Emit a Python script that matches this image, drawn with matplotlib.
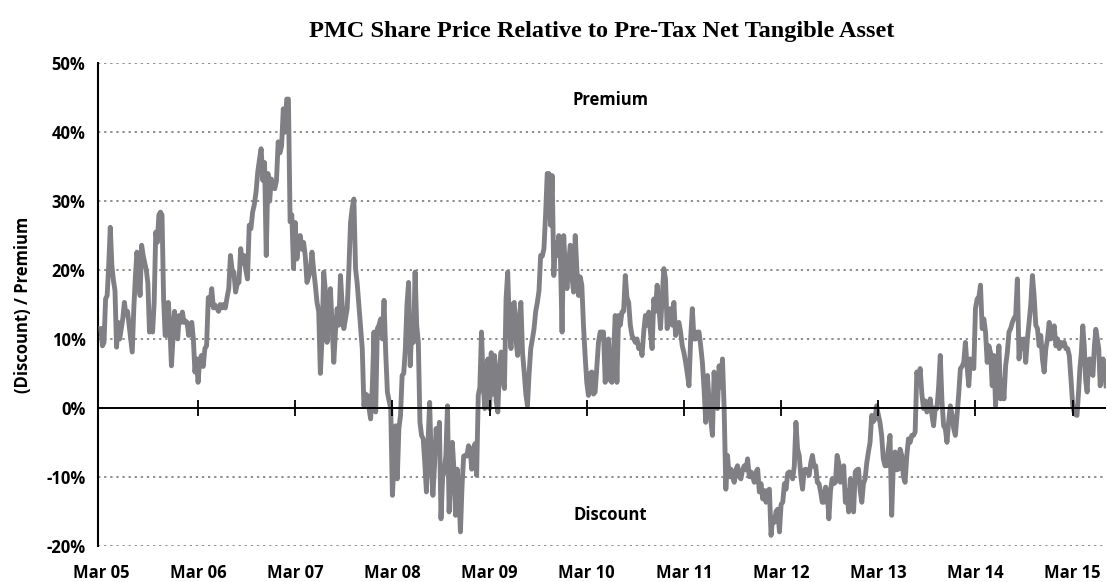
import numpy as np
import matplotlib
matplotlib.use("Agg")
import matplotlib.pyplot as plt

# Share price relative to pre-tax NTA, in %, one list per year (March to March)
pct_2005 = [11.5, 9.0, 9.5, 15.8, 16.3, 20.7, 26.2, 20.7, 18.5, 17, 8.8, 12.4, 10, 11.5, 13,
            15.3, 13.5, 14.0, 12, 10, 8.1, 14.4, 19, 22.6, 20, 16.3, 23.6, 22.1, 21, 20.0,
            18, 11.0, 12, 11.0, 15.3, 25.5, 24, 28, 28.4, 28.0, 16, 10.5, 10.5, 15.3, 12,
            6.1, 10, 14, 11, 10, 13.4, 12.4, 13.9, 12.4, 12.6, 12.4, 10.5, 12, 12.4, 10.0,
            5.2, 7.1]
pct_2006 = [3.7, 7, 7.6, 6, 8.6, 9, 16, 15, 17.3, 14.5, 14.9, 14.5, 14, 15, 14.5, 15, 14.5,
            16, 17.3, 22.1, 20, 19.7, 16.8, 18, 18.2, 23.1, 21, 22.1, 20, 18.7, 26.5, 26,
            28.4, 29.5, 31.3, 34.2, 36, 37.6, 33, 35.6, 22.1, 34, 30, 33.2, 32, 31.8, 33,
            38.6, 37, 38, 43.4, 40, 44.8, 44.8, 27, 28, 20.2]
pct_2007 = [26.9, 21.6, 24, 25, 23, 24, 22, 18.2, 19, 20, 22.6, 20, 17.8, 15.3, 14, 5.0, 10,
            19.7, 17, 9.5, 14, 17.3, 12, 6.6, 11, 14.4, 12, 19.2, 15, 11.5, 13, 14.4, 20,
            26.9, 29, 30.3, 20.2, 18, 14.9, 12, 8.6, 0.3, 2, 1.8, 0, -1.6, 3, 11.0, -0.6,
            11.5, 12, 12.9, 10, 15.6, 8, 2.3, 1, -0.1]
pct_2008 = [-12.7, -8, -2.6, -10.3, -3, -1.1, 4.7, 5, 8.6, 15, 18.2, 6.1, 12, 9.5, 19.7, 12,
            9.5, -2.1, -4, -4.5, -8, -12.2, -5, 0.8, -8, -12.7, -8.4, -3.0, -6, -2.1, -16.1,
            -10, -9.3, -6.9, 0.3, -15.1, -10, -5, -9, -15.6, -8.9, -12, -18.0, -11.3, -7,
            -6.9, -7, -5.5, -6, -8.9, -6, -5.2, -9.8, 1.8, 3, 11.0, 4, -0.1, 5, 7.1]
pct_2009 = [-0.1, 8, 2, 7.6, 1, -0.6, 6, 8.1, 4, 2.8, 15.8, 19.7, 12, 8.6, 15, 15.3, 10, 7.6,
            13, 15.3, 8, 5.2, 2, 0.3, 5, 8.6, 10, 11.5, 14, 15.3, 17, 22.1, 22, 23.1, 28, 34,
            34, 26.5, 33.7, 19.2, 24, 22.1, 25, 22, 11.0, 25, 20, 17.3, 21, 23.6, 19, 16.8,
            25, 20, 16.3, 19, 17.8, 12, 7.6]
pct_2010 = [3.7, 1.8, 5, 5.2, 2, 2.3, 6, 9.5, 11, 11.0, 11.0, 3.7, 8, 10, 4, 3.7, 8, 13.4,
            3.7, 13.4, 12, 13.9, 14, 19.2, 16, 15.3, 12, 10.5, 10, 9.5, 10, 8.6, 9, 7.6, 11,
            13.4, 12, 13.9, 11, 8.6, 15.8, 14, 17.8, 15, 11.5, 16, 20.2, 18.7, 11.5, 14,
            14.4, 12, 15.3, 10.5, 12, 12.4, 11, 9.0]
pct_2011 = [8, 6.6, 5, 3.2, 10, 14.4, 10, 10, 11, 11, 9, 6.6, 2.8, -2.1, 4.7, 1, -1.6, -4.0,
            5.2, 1, -0.1, 6.1, 3, 7.1, -0.1, -11.8, -6.9, -10, -8.9, -10, -10.8, -9, -8.4,
            -10, -10.3, -9, -8.4, -9, -7.4, -10, -9.3, -10, -10.8, -9.3, -8.9, -12.2, -11,
            -13.2, -12, -13.7, -12, -11.8, -18.5, -16, -16.6, -15, -14.7, -18.0]
pct_2012 = [-14, -13.7, -11, -11.8, -9.5, -9.3, -9.5, -10.3, -8.5, -2.1, -6, -6.9, -10, -11.8,
            -9, -8.9, -9.3, -9.8, -8, -6.9, -8.5, -8.4, -10.8, -11, -12.2, -13.7, -13.7,
            -11.5, -12.2, -16.1, -12, -10.3, -11, -10.8, -6.9, -8, -10.8, -9, -8.4, -13.7,
            -12, -15.1, -10.3, -12, -15.1, -9.3, -9, -8.9, -12, -13.7, -11, -10.3, -8, -6.4,
            -5, -1.1, -2, -1.6, 0.3]
pct_2013 = [-1, -2.1, -4, -7.4, -8.4, -8.4, -6, -4.0, -15.6, -8, -6.4, -9, -8.9, -6, -6.9,
            -10, -10.8, -7, -4.5, -5, -4.0, -4, -3.5, 5.2, 4, 5.7, 2, -0.1, 1, -0.6, 0, 1.3,
            -1, -2.6, 0, -0.1, 3, 7.6, 1, -2.6, -3, -5.0, -2, 0.3, -1, -3.0, -4, -1.1, 2,
            5.7, 6, 6.6, 9.5, 6, 3.2, 7.1, 6.6, 5.7]
pct_2014 = [14.4, 15.8, 16, 17.8, 11.5, 12.9, 11, 6.6, 9, 8, 3.2, 7.6, 0.3, 5, 9, 1.3, 4, 1.3,
            6.1, 8, 11, 11.5, 12.4, 13, 13.4, 18.7, 7.1, 10, 8.6, 10, 6.6, 10, 12.4, 15, 19.2,
            16.3, 12, 11.5, 9, 10.5, 7, 5.2, 8.6, 10, 12.4, 10, 11, 11.9, 9, 10, 8.6, 9.5, 9,
            9.5, 8.6, 8.6, 7.6, 4.2]
pct_2015 = [0.5, -0.6, -1, -1.1, 2, 5.7, 8, 11.9, 9, 4, 2.3, 7, 7.1, 5, 4.7, 9, 11.4, 10, 8.6,
            3.2, 6, 7.1, 5, 3.2]
last_date = 2015.51  # last observation, early July 2015

year_lists = [pct_2005, pct_2006, pct_2007, pct_2008, pct_2009, pct_2010,
              pct_2011, pct_2012, pct_2013, pct_2014, pct_2015]
march_years = list(range(2005, 2016))
tick_labels = ["Mar 05", "Mar 06", "Mar 07", "Mar 08", "Mar 09", "Mar 10",
               "Mar 11", "Mar 12", "Mar 13", "Mar 14", "Mar 15"]
y_ticks = [-20, -10, 0, 10, 20, 30, 40, 50]

# Build one series of decimal years
dates = []
values = []
for k, vals in enumerate(year_lists):
    start = march_years[k] + 2 / 12
    if k < len(year_lists) - 1:
        xs = np.linspace(start, start + 1, len(vals), endpoint=False)
    else:
        xs = np.linspace(start, last_date, len(vals))
    dates.extend(xs)
    values.extend(vals)
march_x = [y + 2 / 12 for y in march_years]

sans = "Open Sans"

fig = plt.figure(figsize=(11.07, 5.82), dpi=100)
ax = fig.add_axes([0.0885, 0.0624, 0.9106, 0.8289])

ax.plot(dates, values, color="#808084", lw=3.5, solid_joinstyle="round", zorder=3)

# zero axis with year ticks
ax.axhline(0, color="black", lw=1.4, zorder=4)
ax.plot(march_x[1:], [0] * (len(march_x) - 1), ls="none", marker="|", ms=12,
        mew=1.3, color="black", zorder=4)

ax.set_xlim(march_x[0] - 0.03, last_date)
ax.set_ylim(-20, 50)
ax.set_yticks(y_ticks)
ax.set_yticklabels(["%d%%" % v for v in y_ticks])
ax.set_xticks(march_x)
ax.set_xticklabels(tick_labels)
ax.tick_params(axis="both", length=0, labelsize=12)
ax.tick_params(axis="y", pad=9)
ax.tick_params(axis="x", pad=13)
for lab in ax.get_xticklabels() + ax.get_yticklabels():
    lab.set_fontfamily(sans)
    lab.set_fontweight("bold")

ax.yaxis.grid(True, color="#707070", lw=1.1, linestyle=(0, (1.5, 2.5)))
ax.set_axisbelow(True)
for s in ["top", "right", "bottom"]:
    ax.spines[s].set_visible(False)
ax.spines["left"].set_linewidth(1.5)

ax.set_ylabel("(Discount) / Premium", fontsize=12, fontweight="bold",
              fontfamily=sans, labelpad=10)
ax.set_title("PMC Share Price Relative to Pre-Tax Net Tangible Asset",
             fontsize=17.5, fontweight="bold", fontfamily="Liberation Serif", pad=19)

ax.text(2010.41, 44.6, "Premium", ha="center", va="center", fontsize=12,
        fontweight="bold", fontfamily=sans)
ax.text(2010.41, -15.6, "Discount", ha="center", va="center", fontsize=12,
        fontweight="bold", fontfamily=sans)

fig.savefig("out.png", dpi=100)
